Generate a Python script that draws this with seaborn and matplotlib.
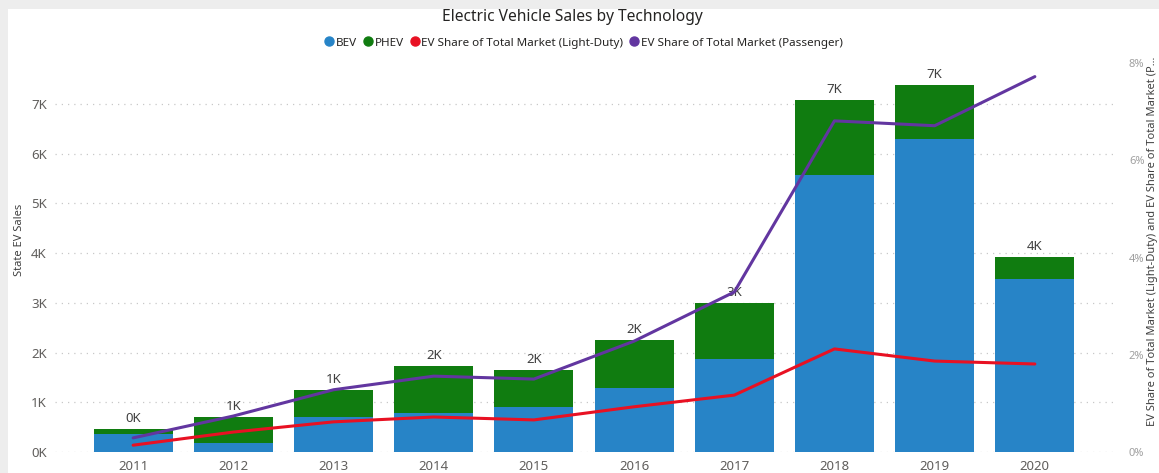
import numpy as np
import pandas as pd
import matplotlib.pyplot as plt
from matplotlib.patches import Rectangle
from matplotlib.lines import Line2D
import seaborn as sns

# data
years = ["2011", "2012", "2013", "2014", "2015", "2016", "2017", "2018", "2019", "2020"]
bev = [360, 180, 700, 780, 900, 1290, 1870, 5570, 6300, 3480]
phev = [100, 520, 550, 950, 750, 960, 1130, 1510, 1080, 440]
share_light_duty = [0.14, 0.41, 0.62, 0.72, 0.66, 0.93, 1.17, 2.12, 1.87, 1.81]
share_passenger = [0.29, 0.74, 1.28, 1.56, 1.50, 2.28, 3.29, 6.81, 6.71, 7.72]

BLUE = "#2784C7"
GREEN = "#107C10"
RED = "#E81123"
PURPLE = "#6236A0"
TXT = "#605E5C"

sns.set_theme(style="white")
plt.rcParams["font.family"] = ["Noto Sans", "DejaVu Sans"]

df = pd.DataFrame({"Year": years, "BEV": bev, "PHEV": phev})
df["Total"] = df["BEV"] + df["PHEV"]

W, H = 1159, 473
fig = plt.figure(figsize=(11.59, 4.73), dpi=100)
fig.patch.set_facecolor("#EDEDED")
bg = Rectangle((8 / W, 0), 1, 1 - 9 / H, transform=fig.transFigure,
               facecolor="white", edgecolor="none", zorder=-10)
fig.add_artist(bg)

ax = fig.add_axes([55 / W, 1 - 452 / H, (1115 - 55) / W, (452 - 63) / H])
ax.set_facecolor("none")

# stacked bars: total (green) then BEV (blue) on top of it
sns.barplot(data=df, x="Year", y="Total", color=GREEN, width=0.79, saturation=1,
            ax=ax, edgecolor="none", zorder=2)
sns.barplot(data=df, x="Year", y="BEV", color=BLUE, width=0.79, saturation=1,
            ax=ax, edgecolor="none", zorder=3)

ax.set_xlim(-0.78, 9.8)
ax.set_ylim(0, 7826)
ax.set_yticks(np.arange(0, 8000, 1000))
ax.set_yticklabels([f"{i}K" for i in range(8)])
ax.yaxis.grid(True, linestyle=(0, (1, 4)), color="#C8C8C8", linewidth=0.9)
ax.set_axisbelow(True)
for s in ax.spines.values():
    s.set_visible(False)
ax.tick_params(axis="both", length=0, labelsize=9.5, labelcolor=TXT, pad=6)
ax.set_xlabel("")
ax.set_ylabel("State EV Sales", fontsize=8, color="#404040")
ax.yaxis.set_label_coords((25 - 55) / 1060, (452 - 240) / 389)

# data labels above bars
for i, t in enumerate(df["Total"]):
    ax.annotate(f"{round(t / 1000):.0f}K", (i, t), xytext=(0, 3), textcoords="offset points",
                ha="center", va="bottom", fontsize=9.5, color="#404040", zorder=6)

# share lines on the secondary axis
ax2 = ax.twinx()
xpos = np.arange(len(years))
sns.lineplot(x=xpos, y=share_light_duty, color=RED, linewidth=2.2, ax=ax2, zorder=5)
sns.lineplot(x=xpos, y=share_passenger, color=PURPLE, linewidth=2.2, ax=ax2, zorder=5)
ax2.set_ylim(0, 8)
ax2.set_yticks([0, 2, 4, 6, 8])
ax2.set_yticklabels(["0%", "2%", "4%", "6%", "8%"])
ax2.tick_params(axis="y", length=0, labelsize=8, labelcolor="#A0A0A0", pad=10)
for s in ax2.spines.values():
    s.set_visible(False)
ax2.set_ylabel("EV Share of Total Market (Light-Duty) and EV Share of Total Market (P...",
               fontsize=8, color="#404040")
ax2.yaxis.set_label_coords((1147 - 55) / 1060, (452 - 241) / 389)

# title and legend
fig.text(572 / W, 1 - 17 / H, "Electric Vehicle Sales by Technology", ha="center", va="center",
         fontsize=11.2, color="#252423")
handles = [Line2D([], [], marker="o", linestyle="none", markersize=6.5, color=c)
           for c in [BLUE, GREEN, RED, PURPLE]]
labels = ["BEV", "PHEV", "EV Share of Total Market (Light-Duty)", "EV Share of Total Market (Passenger)"]
fig.legend(handles, labels, loc="center", bbox_to_anchor=(583 / W, 1 - 43 / H), ncol=4,
           frameon=False, fontsize=8.4, labelcolor="#252423", handletextpad=0.05,
           columnspacing=0.45, handlelength=1.0)

fig.savefig("out.png", dpi=100)
